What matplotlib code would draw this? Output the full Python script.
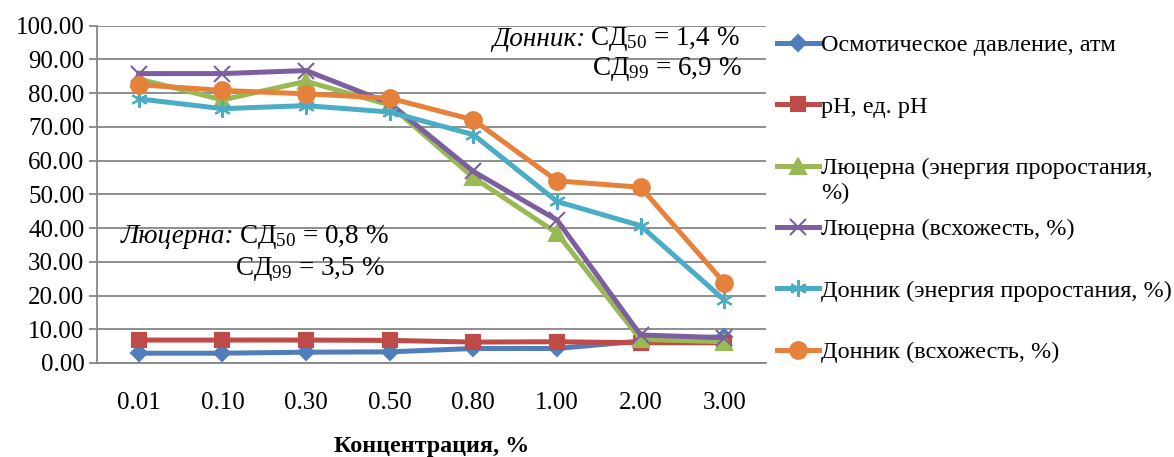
import matplotlib
matplotlib.use('Agg')
import matplotlib.pyplot as plt

plt.rcParams['font.family'] = ['Liberation Serif', 'DejaVu Serif']
plt.rcParams['mathtext.fontset'] = 'custom'
plt.rcParams['mathtext.rm'] = 'Liberation Serif'
plt.rcParams['mathtext.it'] = 'Liberation Serif:italic'

## Data
concentrations = ['0.01', '0.10', '0.30', '0.50', '0.80', '1.00', '2.00', '3.00']
osmotic = [2.9, 2.9, 3.2, 3.3, 4.3, 4.3, 6.5, 7.8]
ph = [6.8, 6.8, 6.8, 6.7, 6.2, 6.3, 6.0, 6.0]
lucerne_energy = [84.2, 78.0, 83.5, 76.5, 55.0, 38.5, 7.0, 6.3]
lucerne_germ = [85.8, 85.8, 86.7, 77.0, 56.8, 42.4, 8.3, 7.5]
melilot_energy = [78.3, 75.4, 76.3, 74.4, 67.7, 47.9, 40.7, 18.7]
melilot_germ = [82.5, 80.8, 79.8, 78.5, 72.1, 54.0, 52.1, 23.8]

series = [
    (osmotic, 'Осмотическое давление, атм', '#4F7EBB', 'D', 8.5),
    (ph, 'pH, ед. pH', '#BE4B48', 's', 10.5),
    (lucerne_energy, 'Люцерна (энергия проростания,', '#98B954', '^', 11),
    (lucerne_germ, 'Люцерна (всхожесть, %)', '#7D5FA0', 'x', 11),
    (melilot_energy, 'Донник (энергия проростания, %)', '#4AACC5', (6, 2, 0), 12),
    (melilot_germ, 'Донник (всхожесть, %)', '#E5813A', 'o', 12),
]

fig = plt.figure(figsize=(11.74, 4.57), dpi=100)
ax = fig.add_axes([0.0826, 0.2057, 0.5699, 0.7381])

x = list(range(len(concentrations)))
for vals, label, color, marker, ms in series:
    ax.plot(x, vals, color=color, lw=3.6, marker=marker, ms=ms,
            mec=color, mew=1.5, label=label, clip_on=False, zorder=3)

ax.set_xlim(-0.5, len(concentrations) - 0.5)
ax.set_ylim(0, 100)
ax.set_yticks(range(0, 101, 10))
ax.set_yticklabels(['%.2f' % v for v in range(0, 101, 10)], fontsize=18)
ax.set_xticks(x)
ax.set_xticklabels(concentrations, fontsize=18)
ax.tick_params(axis='x', length=0, pad=21)
ax.tick_params(axis='y', length=6, width=1.3, color='#868686', pad=3)
ax.grid(axis='y', color='#868686', lw=1.3, zorder=0)
for s in ['top', 'right']:
    ax.spines[s].set_visible(False)
for s in ['left', 'bottom']:
    ax.spines[s].set_color('#868686')
    ax.spines[s].set_linewidth(1.3)
ax.set_xlabel('Концентрация, %', fontsize=17.4, fontweight='bold', labelpad=16)

leg = ax.legend(loc='upper left', bbox_to_anchor=(0.662, 0.925), bbox_transform=fig.transFigure,
                frameon=False, fontsize=17.5, borderpad=0, borderaxespad=0,
                handlelength=1.7, handletextpad=0.12, labelspacing=1.62)

## annotations: italic plant name followed by upright values
def note(xr, y, name, rest, size=19.5):
    t = ax.text(xr, y, rest, transform=ax.transAxes, ha='right', va='center', fontsize=size)
    if name:
        fig.canvas.draw()
        bb = t.get_window_extent()
        x0 = ax.transAxes.inverted().transform((bb.x0 - 5, 0))[0]
        ax.text(x0, y, name, transform=ax.transAxes, ha='right', va='center',
                fontsize=size, fontstyle='italic')

note(0.961, 0.960, 'Донник:', r'СД$_{50}$ = 1,4 %')
note(0.964, 0.871, None, r'СД$_{99}$ = 6,9 %')
note(0.436, 0.375, 'Люцерна:', r'СД$_{50}$ = 0,8 %')
note(0.4305, 0.280, None, r'СД$_{99}$ = 3,5 %')

# second line of the wrapped legend label
fig.canvas.draw()
t = leg.get_texts()[2]
bb = t.get_window_extent()
fig.text(bb.x0 / fig.bbox.width, (bb.y0 - 4) / fig.bbox.height, '%)',
         fontsize=17.5, ha='left', va='top')

plt.savefig('out.png', dpi=100)
